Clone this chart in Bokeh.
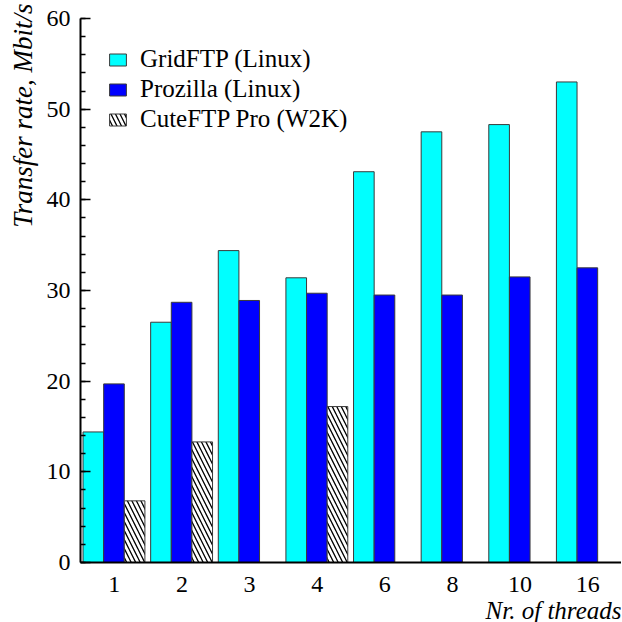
from bokeh.plotting import figure
from bokeh.models import (ColumnDataSource, FactorRange, Range1d, Legend, LegendItem,
                          Title, SingleIntervalTicker)
from bokeh.transform import dodge
from bokeh.embed import file_html
from bokeh.resources import INLINE

threads = ["1", "2", "3", "4", "6", "8", "10", "16"]
gridftp = [14.4, 26.5, 34.4, 31.4, 43.1, 47.5, 48.3, 53.0]
prozilla = [19.7, 28.7, 28.9, 29.7, 29.5, 29.5, 31.5, 32.5]
cute_threads = ["1", "2", "4"]
cuteftp = [6.8, 13.3, 17.2]

FONT = "Liberation Serif"

src = ColumnDataSource(dict(threads=threads, gridftp=gridftp, prozilla=prozilla))
src_c = ColumnDataSource(dict(threads=cute_threads, cuteftp=cuteftp))

p = figure(x_range=FactorRange(*threads, range_padding=0), y_range=Range1d(0, 60),
           frame_width=541, frame_height=544,
           min_border_left=80, min_border_top=18, min_border_right=0, min_border_bottom=0,
           output_backend="svg", toolbar_location=None)

bw = 0.305
r1 = p.vbar(x=dodge("threads", -0.31, range=p.x_range), top="gridftp", width=bw, source=src,
            fill_color="#00FFFF", line_color="#3a3a3a", line_width=1)
r2 = p.vbar(x=dodge("threads", -0.005, range=p.x_range), top="prozilla", width=bw, source=src,
            fill_color="#0000FF", line_color="#3a3a3a", line_width=1)
r3 = p.vbar(x=dodge("threads", 0.30, range=p.x_range), top="cuteftp", width=bw, source=src_c,
            fill_color="white", line_color="#3a3a3a", line_width=1,
            hatch_pattern="\\", hatch_color="black", hatch_scale=9, hatch_weight=1.3)

p.xgrid.grid_line_color = None
p.ygrid.grid_line_color = None
p.outline_line_color = None
p.background_fill_color = "white"
p.border_fill_color = "white"

xa = p.xaxis[0]
xa.axis_line_width = 2
xa.axis_line_color = "black"
xa.major_tick_line_color = None
xa.minor_tick_line_color = None
xa.major_label_text_font = FONT
xa.major_label_text_font_size = "24px"
xa.major_label_text_color = "black"
xa.major_label_standoff = 8

ya = p.yaxis[0]
ya.ticker = SingleIntervalTicker(interval=10, num_minor_ticks=5)
ya.axis_line_width = 2
ya.axis_line_color = "black"
ya.major_tick_in = 10
ya.major_tick_out = 0
ya.minor_tick_in = 5
ya.minor_tick_out = 0
ya.major_tick_line_width = 1.5
ya.minor_tick_line_width = 1.5
ya.major_label_text_font = FONT
ya.major_label_text_font_size = "24px"
ya.major_label_text_color = "black"
ya.major_label_standoff = 10

ytitle = Title(text="Transfer rate, Mbit/s", align="right", text_font=FONT,
               text_font_style="italic", text_font_size="27px", text_color="black",
               standoff=11, offset=-15)
xtitle = Title(text="Nr. of threads", align="right", text_font=FONT,
               text_font_style="italic", text_font_size="25px", text_color="black",
               standoff=0, offset=0)
p.add_layout(ytitle, "left")
p.add_layout(xtitle, "below")

legend = Legend(items=[LegendItem(label="GridFTP (Linux)", renderers=[r1]),
                       LegendItem(label="Prozilla (Linux)", renderers=[r2]),
                       LegendItem(label="CuteFTP Pro (W2K)", renderers=[r3])],
                location="top_left", margin=27, padding=8, spacing=2,
                label_text_font=FONT, label_text_font_size="25px",
                label_text_color="black", label_standoff=12,
                glyph_width=21, glyph_height=15, label_height=20,
                border_line_color=None, background_fill_alpha=0)
p.add_layout(legend)

open("out.html", "w").write(file_html(p, INLINE))
